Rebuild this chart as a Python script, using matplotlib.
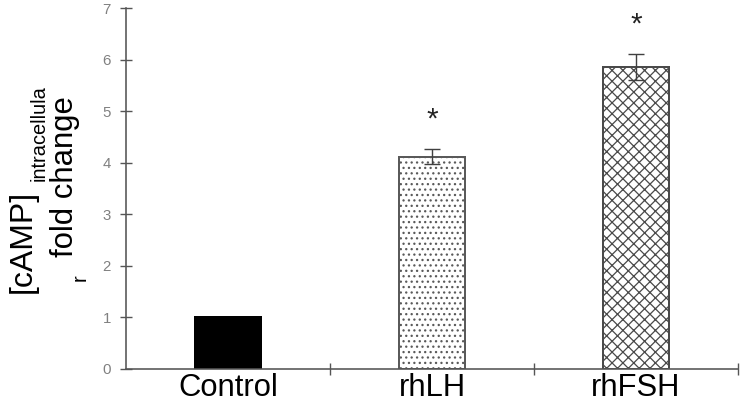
import numpy as np
import matplotlib
matplotlib.use('Agg')
import matplotlib.pyplot as plt

# data
categories = ['Control', 'rhLH', 'rhFSH']
fold_change = [1.0, 4.12, 5.86]
sem = [0.0, 0.15, 0.25]
significant = [False, True, True]
y_ticks = [0, 1, 2, 3, 4, 5, 6, 7]

DPI = 130
W, H = 742, 403
PT = 72.0 / DPI  # pixels -> points


def fx(x):
    return x / W


def fy(y):
    return 1 - y / H


plt.rcParams['font.family'] = ['Liberation Sans', 'DejaVu Sans']
plt.rcParams['hatch.linewidth'] = 0.7

fig = plt.figure(figsize=(W / DPI, H / DPI), dpi=DPI)
ax = fig.add_axes([fx(126), fy(369), fx(738) - fx(126), fy(8) - fy(369)])

x = np.arange(len(categories))
faces = ['black', 'white', 'white']
edges = ['black', '#5a5a5a', '#4a4a4a']
hatches = [None, '....', 'xxxx']
for i in range(len(categories)):
    ax.bar(x[i], fold_change[i], width=0.32, color=faces[i], edgecolor=edges[i],
           hatch=hatches[i], linewidth=2 * PT, zorder=2)
    if sem[i] > 0:
        ax.errorbar(x[i], fold_change[i], yerr=sem[i], fmt='none', ecolor='#404040',
                    elinewidth=1.4 * PT, capsize=8 * PT, capthick=1.4 * PT, zorder=3)
    if significant[i]:
        ax.annotate('*', xy=(x[i], fold_change[i] + sem[i]), xytext=(0, 12),
                    textcoords='offset points', ha='center', va='baseline',
                    fontsize=30 * PT, color='#222222')

ax.set_xlim(-0.5, 2.5)
ax.set_ylim(0, 7)
ax.set_yticks(y_ticks)
ax.set_xticks(x)
ax.set_xticklabels(categories, fontsize=31 * PT)
ax.set_xticks(x + 0.5, minor=True)

for s in ['top', 'right']:
    ax.spines[s].set_visible(False)
for s in ['left', 'bottom']:
    ax.spines[s].set_color('#555555')
    ax.spines[s].set_linewidth(1.6 * PT)

ax.tick_params(axis='y', direction='inout', length=12 * PT, width=1.4 * PT,
               color='#555555', labelcolor='#808080', labelsize=15 * PT, pad=9 * PT)
ax.tick_params(axis='x', which='major', length=0, pad=4 * PT, labelcolor='black')
ax.tick_params(axis='x', which='minor', direction='inout', length=12 * PT,
               width=1.4 * PT, color='#555555')

# y label: two rotated lines with subscripts
kw = dict(rotation=90, rotation_mode='anchor', ha='left', va='baseline')
fig.text(fx(31), fy(293), '[cAMP]', fontsize=32 * PT, **kw)
fig.text(fx(45), fy(181), 'intracellula', fontsize=20 * PT, **kw)
fig.text(fx(73), fy(257), 'fold change', fontsize=31 * PT, **kw)
fig.text(fx(86), fy(281), 'r', fontsize=20 * PT, **kw)

fig.savefig('out.png', dpi=DPI)
